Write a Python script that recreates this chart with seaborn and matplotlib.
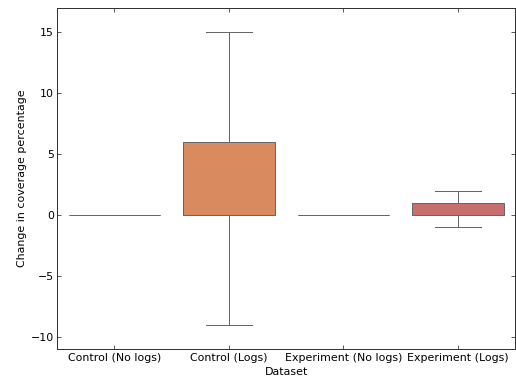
import matplotlib
matplotlib.use("Agg")
import matplotlib.pyplot as plt
import seaborn as sns
import pandas as pd

# Per-dataset change in coverage percentage
datasets = ["Control (No logs)", "Control (Logs)", "Experiment (No logs)", "Experiment (Logs)"]
control_no_logs = [0, 0, 0, 0, 0, 0, 0]
control_logs = [-9, 0, 0, 0, 0, 0, 6, 6, 15]
experiment_no_logs = [0, 0, 0, 0, 0, 0, 0]
experiment_logs = [-1, 0, 0, 0, 1, 1, 2]

series = [control_no_logs, control_logs, experiment_no_logs, experiment_logs]
df = pd.DataFrame(
    [(name, v) for name, vals in zip(datasets, series) for v in vals],
    columns=["Dataset", "Change in coverage percentage"],
)

plt.rcParams.update({
    "font.family": ["DejaVu Sans"],
    "font.size": 11,
    "xtick.direction": "in",
    "ytick.direction": "in",
    "xtick.top": True,
    "ytick.right": True,
    "xtick.major.size": 4,
    "ytick.major.size": 4,
    "axes.linewidth": 1.0,
    "axes.edgecolor": "#333333",
})

fig = plt.figure(figsize=(516 / 72, 377 / 72), dpi=72)
ax = fig.add_axes([0.111, 0.074, 0.887, 0.905])

sns.boxplot(
    data=df, x="Dataset", y="Change in coverage percentage",
    hue="Dataset", palette="muted", legend=False, ax=ax,
    order=datasets, linewidth=1.0, linecolor="#666666",
)

ax.set_ylim(-11, 17)
ax.set_yticks([-10, -5, 0, 5, 10, 15])
ax.tick_params(labelsize=11, colors="#333333", labelcolor="black")
ax.set_xlabel("Dataset", fontsize=11)
ax.set_ylabel("Change in coverage percentage", fontsize=11)

fig.savefig("out.png", dpi=72)
